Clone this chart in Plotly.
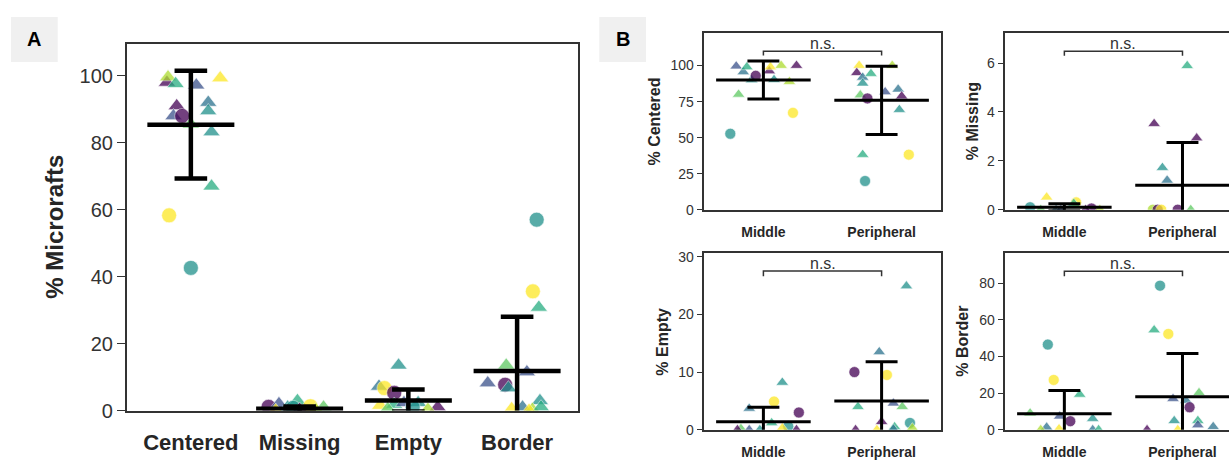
import plotly.graph_objects as go

W, H = 1229, 464
FONT = "Liberation Sans, Arial, Helvetica, sans-serif"

# viridis-like palette used for samples
PAL = {'P': '#440154', 'BP': '#3b528b', 'B': '#2c728e', 'T': '#21918c',
       'G': '#27ad81', 'LG': '#5ec962', 'YG': '#addc30', 'Y': '#fde725'}

# ---------------- Panel A data ----------------
a_categories = ['Centered', 'Missing', 'Empty', 'Border']
a_means = [85.4, 0.5, 3.0, 11.8]
a_sds = [16.1, 0.7, 3.3, 16.2]

a_centered_vals = [98.0, 99.6, 97.6, 97.2, 99.3, 91.0, 88.0, 88.0, 92.0, 89.5, 85.5, 83.2, 67.0, 58.3, 42.6]
a_centered_jit = [-0.22, -0.21, -0.14, 0.05, 0.27, -0.13, -0.16, -0.08, 0.16, 0.16, 0.0, 0.19, 0.19, -0.2, 0.0]
a_centered_col = ['P', 'YG', 'G', 'BP', 'Y', 'P', 'BP', 'P', 'B', 'T', 'LG', 'T', 'G', 'Y', 'T']
a_centered_sym = ['t', 't', 't', 't', 't', 't', 't', 'c', 't', 't', 't', 't', 't', 'c', 'c']

a_missing_vals = [1.1, 2.0, 1.0, 2.9, 0.8, 1.3, 1.0, 0.3, 0.2, 0.0]
a_missing_jit = [-0.285, -0.19, -0.11, -0.02, -0.06, 0.10, 0.22, 0.0, 0.15, -0.22]
a_missing_col = ['P', 'BP', 'T', 'G', 'T', 'Y', 'LG', 'P', 'YG', 'Y']
a_missing_sym = ['c', 't', 't', 't', 'c', 'c', 't', 't', 't', 't']

a_empty_vals = [13.5, 7.2, 6.7, 5.3, 1.5, 1.8, 2.3, 2.3, 1.0, 0.5, 1.0, 0.3]
a_empty_jit = [-0.09, -0.27, -0.22, -0.13, -0.26, -0.13, -0.04, 0.09, 0.27, -0.19, 0.04, 0.18]
a_empty_col = ['T', 'B', 'Y', 'P', 'Y', 'G', 'BP', 'T', 'P', 'LG', 'T', 'YG']
a_empty_sym = ['t', 't', 'c', 'c', 't', 't', 't', 't', 't', 't', 'c', 't']

a_border_vals = [57.0, 35.6, 30.8, 13.5, 8.2, 7.7, 6.7, 11.5, 2.9, 1.0, 0.5, 0.3, 1.0, 0.0]
a_border_jit = [0.18, 0.145, 0.2, -0.1, -0.27, -0.11, -0.08, 0.09, 0.21, 0.05, -0.05, 0.14, 0.22, 0.11]
a_border_col = ['T', 'Y', 'G', 'LG', 'BP', 'P', 'T', 'BP', 'T', 'B', 'Y', 'YG', 'G', 'Y']
a_border_sym = ['c', 'c', 't', 't', 't', 'c', 't', 't', 't', 't', 't', 't', 't', 't']

# ---------------- Panel B data ----------------
b_groups = ['Middle', 'Peripheral']

# % Centered
cen_means = [90.0, 75.9]
cen_sds = [13.2, 23.7]
cen_mid_vals = [99.6, 95.6, 99.0, 90.0, 92.9, 96.2, 99.0, 90.2, 100.0, 100.0, 88.8, 80.0, 67.2, 52.7]
cen_mid_jit = [-0.23, -0.17, -0.14, -0.10, -0.065, 0.05, 0.06, 0.09, 0.15, 0.28, 0.22, -0.21, 0.25, -0.28]
cen_mid_col = ['BP', 'B', 'G', 'T', 'P', 'P', 'Y', 'T', 'YG', 'P', 'YG', 'LG', 'Y', 'T']
cen_mid_sym = ['t', 't', 't', 't', 'c', 't', 't', 't', 't', 't', 't', 't', 'c', 'c']
cen_per_vals = [100.0, 95.0, 91.8, 87.7, 94.4, 100.0, 79.5, 77.2, 81.7, 83.5, 78.8, 69.4, 38.2, 38.2, 19.9]
cen_per_jit = [-0.19, -0.21, -0.16, -0.16, -0.09, 0.09, -0.18, -0.12, 0.03, 0.14, 0.17, 0.15, -0.16, 0.23, -0.14]
cen_per_col = ['Y', 'P', 'B', 'T', 'G', 'YG', 'LG', 'P', 'BP', 'B', 'P', 'T', 'G', 'Y', 'T']
cen_per_sym = ['t', 't', 't', 't', 't', 't', 't', 'c', 't', 't', 't', 't', 't', 'c', 'c']

# % Missing
mis_means = [0.1, 1.0]
mis_sds = [0.14, 1.75]
mis_mid_vals = [0.51, 0.3, 0.25, 0.1, 0.05, 0.0, 0.0, 0.0, 0.0, 0.0]
mis_mid_jit = [-0.15, 0.10, 0.08, -0.29, 0.23, -0.2, -0.07, 0.18, -0.03, 0.30]
mis_mid_col = ['Y', 'Y', 'G', 'T', 'P', 'LG', 'B', 'P', 'BP', 'YG']
mis_mid_sym = ['t', 'c', 't', 'c', 'c', 't', 't', 't', 't', 't']
mis_per_vals = [5.89, 3.52, 2.93, 1.72, 1.2, 0.0, 0.0, 0.0, 0.0, 0.0]
mis_per_jit = [0.04, -0.24, 0.12, -0.17, -0.13, -0.25, -0.21, -0.04, 0.07, -0.18]
mis_per_col = ['G', 'P', 'P', 'T', 'B', 'YG', 'P', 'P', 'LG', 'Y']
mis_per_sym = ['t', 't', 't', 't', 't', 'c', 'c', 'c', 't', 'c']

# % Empty
emp_means = [1.4, 5.0]
emp_sds = [2.5, 6.8]
emp_mid_vals = [8.2, 4.9, 3.7, 3.0, 1.2, 0.6, 0.3, 0.2, 0.0, 0.0, 0.0, 0.0]
emp_mid_jit = [0.16, 0.09, -0.12, 0.30, 0.07, 0.21, 0.16, -0.19, -0.12, -0.22, 0.28, -0.03]
emp_mid_col = ['T', 'Y', 'B', 'P', 'G', 'T', 'Y', 'LG', 'BP', 'P', 'P', 'T']
emp_mid_sym = ['t', 'c', 't', 'c', 't', 'c', 't', 't', 't', 't', 't', 't']
emp_per_vals = [24.9, 13.5, 10.0, 9.5, 4.0, 4.6, 4.0, 1.4, 1.2, 0.5, 0.1, 0.0, 0.0, 0.3]
emp_per_jit = [0.21, -0.02, -0.23, 0.045, -0.2, 0.10, 0.175, 0.0, 0.24, 0.11, 0.10, -0.04, -0.22, 0.26]
emp_per_col = ['T', 'B', 'P', 'Y', 'G', 'BP', 'LG', 'P', 'T', 'G', 'B', 'Y', 'P', 'YG']
emp_per_sym = ['t', 't', 'c', 'c', 't', 't', 't', 't', 'c', 't', 't', 't', 't', 't']

# % Border
bor_means = [8.8, 18.1]
bor_sds = [12.6, 23.5]
bor_mid_vals = [46.5, 27.2, 19.3, 9.1, 7.4, 4.7, 6.1, 1.4, 0.0, 0.5, 0.0, 0.0]
bor_mid_jit = [-0.14, -0.09, 0.13, -0.29, -0.04, 0.05, 0.24, -0.15, -0.2, -0.045, 0.24, 0.29]
bor_mid_col = ['T', 'Y', 'G', 'LG', 'BP', 'P', 'T', 'B', 'YG', 'Y', 'B', 'G']
bor_mid_sym = ['c', 'c', 't', 't', 't', 'c', 't', 't', 't', 't', 't', 't']
bor_per_vals = [78.6, 54.4, 52.3, 20.2, 17.0, 16.0, 12.3, 4.9, 5.0, 2.6, 1.7, 0.0, 0.0]
bor_per_jit = [-0.19, -0.24, -0.12, 0.14, -0.08, 0.03, 0.06, -0.07, 0.13, 0.13, 0.26, -0.3, -0.04]
bor_per_col = ['T', 'G', 'Y', 'LG', 'BP', 'B', 'P', 'T', 'G', 'BP', 'B', 'P', 'Y']
bor_per_sym = ['c', 't', 'c', 't', 't', 't', 'c', 't', 't', 't', 't', 't', 't']

fig = go.Figure()


def add_points(pos, vals, jit, cols, syms, xa, ya, tri_size, circ_size):
    xs = [pos + j for j in jit]
    fig.add_trace(go.Scatter(
        x=xs, y=vals, mode='markers', xaxis=xa, yaxis=ya, showlegend=False,
        hoverinfo='skip', cliponaxis=True,
        marker=dict(
            symbol=['triangle-up' if s == 't' else 'circle' for s in syms],
            size=[tri_size if s == 't' else circ_size for s in syms],
            color=[PAL[c] for c in cols], opacity=0.75,
            line=dict(color='white', width=0.6))))


def add_meanbars(means, sds, xa, ya, half, cap, width):
    X, Y = [], []
    for i, (m, s) in enumerate(zip(means, sds)):
        X += [i - half, i + half, None, i, i, None,
              i - cap, i + cap, None, i - cap, i + cap, None]
        Y += [m, m, None, m - s, m + s, None,
              m + s, m + s, None, m - s, m - s, None]
    fig.add_trace(go.Scatter(x=X, y=Y, mode='lines', xaxis=xa, yaxis=ya,
                             line=dict(color='black', width=width),
                             showlegend=False, hoverinfo='skip'))


# Panel A
a_sets = [(a_centered_vals, a_centered_jit, a_centered_col, a_centered_sym),
          (a_missing_vals, a_missing_jit, a_missing_col, a_missing_sym),
          (a_empty_vals, a_empty_jit, a_empty_col, a_empty_sym),
          (a_border_vals, a_border_jit, a_border_col, a_border_sym)]
for i, (v, j, c, s) in enumerate(a_sets):
    add_points(i, v, j, c, s, 'x', 'y', 15, 15)
add_meanbars(a_means, a_sds, 'x', 'y', 0.4, 0.15, 4.5)

# Panel B
b_panels = [
    ('x2', 'y2', cen_means, cen_sds,
     [(cen_mid_vals, cen_mid_jit, cen_mid_col, cen_mid_sym),
      (cen_per_vals, cen_per_jit, cen_per_col, cen_per_sym)]),
    ('x3', 'y3', mis_means, mis_sds,
     [(mis_mid_vals, mis_mid_jit, mis_mid_col, mis_mid_sym),
      (mis_per_vals, mis_per_jit, mis_per_col, mis_per_sym)]),
    ('x4', 'y4', emp_means, emp_sds,
     [(emp_mid_vals, emp_mid_jit, emp_mid_col, emp_mid_sym),
      (emp_per_vals, emp_per_jit, emp_per_col, emp_per_sym)]),
    ('x5', 'y5', bor_means, bor_sds,
     [(bor_mid_vals, bor_mid_jit, bor_mid_col, bor_mid_sym),
      (bor_per_vals, bor_per_jit, bor_per_col, bor_per_sym)]),
]
for xa, ya, means, sds, sets in b_panels:
    for i, (v, j, c, s) in enumerate(sets):
        add_points(i, v, j, c, s, xa, ya, 11, 11)
    add_meanbars(means, sds, xa, ya, 0.4, 0.135, 3)


def px_x(p):
    return p / W


def px_y(p):
    return 1 - p / H


AXC = '#333333'
common_y = dict(showline=True, linecolor=AXC, linewidth=1.5, ticks='outside',
                tickcolor=AXC, tickwidth=1.3, showgrid=False, zeroline=False)
common_x = dict(showline=True, linecolor=AXC, linewidth=1.5, mirror=True,
                ticks='outside', tickcolor='rgba(0,0,0,0)', showgrid=False, zeroline=False)

layout = dict(
    width=W, height=H, margin=dict(l=0, r=0, t=0, b=0),
    plot_bgcolor='white', paper_bgcolor='white',
    font=dict(family=FONT, color=AXC),
    xaxis=dict(domain=[px_x(126.7), px_x(578)], range=[-0.59, 3.56],
               tickvals=list(range(4)), ticktext=a_categories, ticklen=11,
               tickfont=dict(size=22, weight='bold', color='#262626'), **common_x),
    yaxis=dict(domain=[px_y(420), px_y(40)], range=[0, 109.6], anchor='x',
               tickvals=[0, 20, 40, 60, 80, 100], ticklen=8, mirror=True,
               tickfont=dict(size=20, color=AXC), **common_y),
)

b_specs = [
    (2, (704.3, 940.7), (212, 29.3), [-0.5, 1.5], [0, 122.4], [0, 25, 50, 75, 100], True),
    (3, (1005.3, 1229), (212, 29.3), [-0.5, (1229 - 1063.7) / 118.6], [0, 7.22], [0, 2, 4, 6], False),
    (4, (704.3, 940.7), (440, 257.3), [-0.5, 1.5], [0, 30.55], [0, 10, 20, 30], True),
    (5, (1005.3, 1229), (440, 257.3), [-0.5, (1229 - 1063.7) / 118.6], [0, 96.2], [0, 20, 40, 60, 80], False),
]
for n, xd, yd, xr, yr, tv, my in b_specs:
    layout[f'xaxis{n}'] = dict(domain=[px_x(xd[0]), px_x(xd[1])], range=xr, anchor=f'y{n}',
                               tickvals=[0, 1], ticktext=b_groups, ticklen=9,
                               tickfont=dict(size=14, weight='bold', color='#262626'), **common_x)
    layout[f'yaxis{n}'] = dict(domain=[px_y(yd[0]), px_y(yd[1])], range=yr, anchor=f'x{n}',
                               tickvals=tv, ticklen=6, mirror=my,
                               tickfont=dict(size=14, color=AXC), **common_y)

fig.update_layout(**layout)

# panel label boxes
for x0, x1, lab in [(11, 57.7, 'A'), (599.3, 646, 'B')]:
    fig.add_shape(type='rect', xref='paper', yref='paper', x0=px_x(x0), x1=px_x(x1),
                  y0=px_y(59), y1=px_y(12.3), fillcolor='#f0f0f0', line=dict(width=0), layer='below')
    fig.add_annotation(text=f'<b>{lab}</b>', xref='paper', yref='paper', x=px_x((x0 + x1) / 2),
                       y=px_y(35.7), showarrow=False, font=dict(size=20, color='black'),
                       xanchor='center', yanchor='middle')

# y-axis titles
ytitles = [('% Microrafts', 53.6, 230, 24),
           ('% Centered', 655, 120.7, 16),
           ('% Missing', 972.7, 120.7, 16),
           ('% Empty', 663, 348.7, 16),
           ('% Border', 963, 348.7, 16)]
for t, xp, yp, fs in ytitles:
    fig.add_annotation(text=f'<b>{t}</b>', xref='paper', yref='paper', x=px_x(xp), y=px_y(yp),
                       textangle=-90, showarrow=False, font=dict(size=fs, color='#262626'),
                       xanchor='center', yanchor='middle')

# significance brackets
brackets = [('x2', 'y2', 110.0, 107.0), ('x3', 'y3', 6.48, 6.30),
            ('x4', 'y4', 27.5, 26.6), ('x5', 'y5', 86.5, 83.8)]
for xa, ya, top, low in brackets:
    fig.add_shape(type='path', xref=xa, yref=ya,
                  path=f'M 0 {low} L 0 {top} L 1 {top} L 1 {low}',
                  line=dict(color=AXC, width=1.5))
    fig.add_annotation(text='n.s.', xref=xa, yref=ya, x=0.5, y=top, showarrow=False,
                       yanchor='bottom', xanchor='center', yshift=-3,
                       font=dict(size=16, color=AXC))

PAGE_JS = ("var s=document.documentElement.style;s.margin='0';s.padding='0';s.overflow='hidden';"
           "var b=document.body.style;b.margin='0';b.padding='0';b.overflow='hidden';")
fig.write_html('out.html', config={'displayModeBar': False}, post_script=PAGE_JS)
